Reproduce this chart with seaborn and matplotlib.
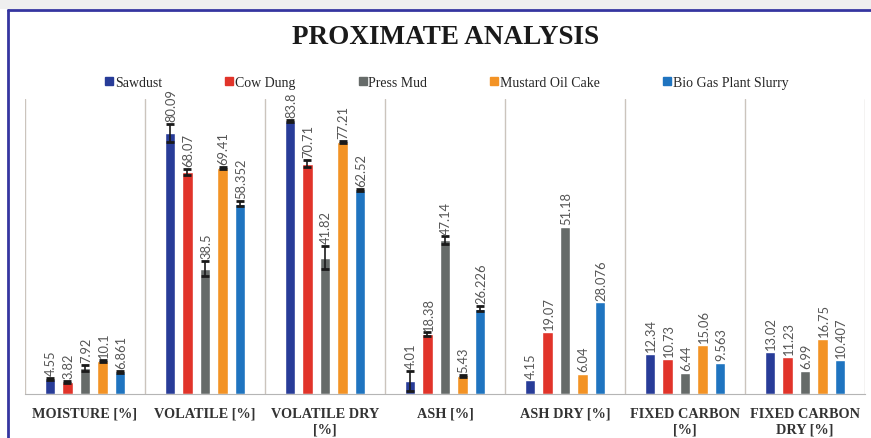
import matplotlib
matplotlib.use("Agg")
import matplotlib.pyplot as plt
from matplotlib.lines import Line2D
from matplotlib.patches import Rectangle
import seaborn as sns
import pandas as pd
import numpy as np

# categories and series
categories = ['MOISTURE [%]', 'VOLATILE [%]', 'VOLATILE DRY\n[%]', 'ASH [%]',
              'ASH DRY [%]', 'FIXED CARBON\n[%]', 'FIXED CARBON\nDRY [%]']
materials = ['Sawdust', 'Cow Dung', 'Press Mud', 'Mustard Oil Cake', 'Bio Gas Plant Slurry']
colors = ['#283c98', '#e1342a', '#666b69', '#f39325', '#1f74c0']

values = {
    'Sawdust':              [4.55, 80.09, 83.8, 4.01, 4.15, 12.34, 13.02],
    'Cow Dung':             [3.82, 68.07, 70.71, 18.38, 19.07, 10.73, 11.23],
    'Press Mud':            [7.92, 38.5, 41.82, 47.14, 51.18, 6.44, 6.99],
    'Mustard Oil Cake':     [10.1, 69.41, 77.21, 5.43, 6.04, 15.06, 16.75],
    'Bio Gas Plant Slurry': [6.861, 58.352, 62.52, 26.226, 28.076, 9.563, 10.407],
}
labels = {
    'Sawdust':              ['4.55', '80.09', '83.8', '4.01', '4.15', '12.34', '13.02'],
    'Cow Dung':             ['3.82', '68.07', '70.71', '18.38', '19.07', '10.73', '11.23'],
    'Press Mud':            ['7.92', '38.5', '41.82', '47.14', '51.18', '6.44', '6.99'],
    'Mustard Oil Cake':     ['10.1', '69.41', '77.21', '5.43', '6.04', '15.06', '16.75'],
    'Bio Gas Plant Slurry': ['6.861', '58.352', '62.52', '26.226', '28.076', '9.563', '10.407'],
}
# error bars (None = no bar)
errors = {
    'Sawdust':              [0.3, 2.8, 0.3, 3.0, None, None, None],
    'Cow Dung':             [0.3, 0.9, 1.0, 0.5, None, None, None],
    'Press Mud':            [0.9, 2.3, 3.5, 1.2, None, None, None],
    'Mustard Oil Cake':     [0.3, 0.3, 0.3, 0.3, None, None, None],
    'Bio Gas Plant Slurry': [0.3, 0.8, 0.3, 0.7, None, None, None],
}

rows = []
for m in materials:
    for c, v in zip(categories, values[m]):
        rows.append({'category': c, 'material': m, 'value': v})
df = pd.DataFrame(rows)

sns.set_style('white')

fig = plt.figure(figsize=(8.71, 4.39), dpi=100)
ax = fig.add_axes([0.0287, 0.1002, 0.9644, 0.672])

sns.barplot(data=df, x='category', y='value', hue='material', order=categories,
            hue_order=materials, palette=colors, width=0.73, gap=0.38,
            errorbar=None, saturation=1, ax=ax)

for cont, m in zip(ax.containers, materials):
    for patch, err, lab in zip(cont.patches, errors[m], labels[m]):
        xc = patch.get_x() + patch.get_width() / 2
        h = patch.get_height()
        top = h
        if err is not None:
            ax.errorbar(xc, h, yerr=err, fmt='none', ecolor='#1a1a1a',
                        elinewidth=1.2, capsize=3.2, capthick=2)
            top = h + err
        ax.text(xc + 0.01, top + 0.9, lab, rotation=90, ha='center', va='bottom',
                fontsize=9.3, color='#555555', family='Lato')

for b in np.arange(-0.5, len(categories), 1.0):
    ax.axvline(b, color='#cbc4bd', lw=1.0, zorder=0)

ax.set_xlim(-0.5, len(categories) - 0.5)
ax.set_ylim(0, 90.5)
ax.set_xlabel('')
ax.set_ylabel('')
ax.set_yticks([])
for s in ['top', 'left', 'right']:
    ax.spines[s].set_visible(False)
ax.spines['bottom'].set_color('#b5b5b5')
ax.tick_params(axis='x', length=0, pad=9)
ax.set_xticks(range(len(categories)))
ax.set_xticklabels(categories, family='Liberation Serif', fontweight='bold',
                   fontsize=10.3, color='#333333', linespacing=1.3)

ax.get_legend().remove()
sq = [Line2D([0], [0], marker='s', linestyle='none', markersize=5.5,
             markerfacecolor=c, markeredgecolor=c) for c in colors]
fig.legend(sq, materials, loc='center', bbox_to_anchor=(0.513, 0.81), ncol=5,
           frameon=False, handlelength=0.6, handletextpad=0.1,
           columnspacing=4.55, prop={'family': 'Liberation Serif', 'size': 10})

fig.text(0.511, 0.914, 'PROXIMATE ANALYSIS', ha='center', va='center',
         family='Liberation Serif', fontweight='bold', fontsize=19.5, color='#1a1a1a')

# frame
fig.add_artist(Rectangle((0, 0.978), 1, 0.022, transform=fig.transFigure,
                         color='#efefef', lw=0))
fig.add_artist(Line2D([0.009, 1], [0.975, 0.975], transform=fig.transFigure,
                      color='#3535a0', lw=2))
fig.add_artist(Line2D([0.0095, 0.0095], [0, 0.975], transform=fig.transFigure,
                      color='#3535a0', lw=2))

fig.savefig('out.png', dpi=100)
